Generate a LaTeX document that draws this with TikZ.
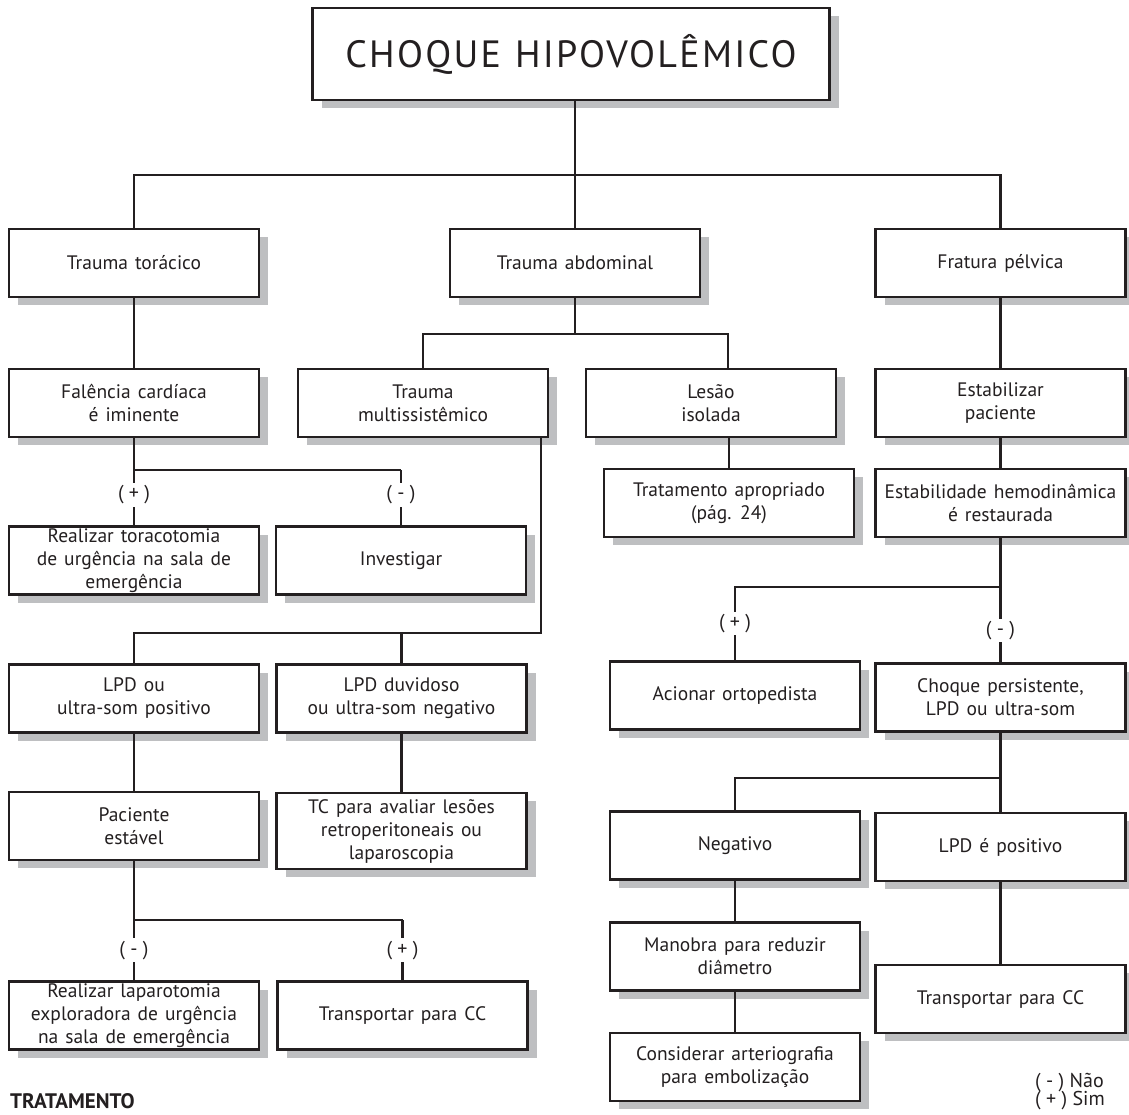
\documentclass[tikz,border=0pt]{standalone}
\usepackage{fontspec}
\setmainfont{PT Sans}
\newfontfamily\titlefont[LetterSpace=6]{PT Sans}
\usetikzlibrary{shadows}
\definecolor{ink}{HTML}{231F20}
\definecolor{shade}{HTML}{BEBFC1}

\begin{document}
\begin{tikzpicture}[x=1pt,y=-1pt,
    box/.style={draw=ink,line width=2.6pt,fill=white,minimum width=250pt,
      minimum height=68pt,inner sep=0pt,align=center,text=ink,
      font={\fontsize{19.5}{23}\selectfont\spaceskip=7pt plus 2pt\relax},
      drop shadow={shadow xshift=9pt,shadow yshift=-8pt,fill=shade,opacity=1}},
    wire/.style={ink,line width=2.6pt},
    sign/.style={fill=white,inner sep=2.5pt,text=ink,font=\fontsize{20}{22}\selectfont},
    note/.style={anchor=base west,inner sep=0pt,text=ink,font=\fontsize{20}{22}\selectfont}]
    % Page
    \useasboundingbox (0,0) rectangle (1129,1115);
    \fill[white] (0,0) rectangle (1129,1115);
    % Boxes
    \node[box,minimum width=517pt,minimum height=92pt,font={\titlefont\fontsize{38}{42}\selectfont\spaceskip=14pt\relax}] (title) at (571,54) {CHOQUE HIPOVOLÊMICO};
    \node[box] (tt) at (134,263) {Trauma torácico};
    \node[box] (ta) at (575,263) {Trauma abdominal};
    \node[box] (fp) at (1000.5,263) {Fratura pélvica};
    \node[box] (fc) at (134,403) {Falência cardíaca\\é iminente};
    \node[box] (tm) at (423,403) {Trauma\\multissistêmico};
    \node[box] (li) at (711,403) {Lesão\\isolada};
    \node[box] (ep) at (1000.5,403) {Estabilizar\\paciente};
    \node[box] (tr) at (729,503) {Tratamento apropriado\\(pág. 24)};
    \node[box] (eh) at (1000.5,503) {Estabilidade hemodinâmica\\é restaurada};
    \node[box] (rt) at (134,560.5) {Realizar toracotomia\\de urgência na sala de\\emergência};
    \node[box] (inv) at (401,560.5) {Investigar};
    \node[box] (lpd) at (134,698.5) {LPD ou\\ultra-som positivo};
    \node[box] (lpdd) at (401.5,698.5) {LPD duvidoso\\ou ultra-som negativo};
    \node[box] (ao) at (735,695.5) {Acionar ortopedista};
    \node[box] (cp) at (1000.5,697.5) {Choque persistente,\\LPD ou ultra-som};
    \node[box] (pe) at (134,826) {Paciente\\estável};
    \node[box,minimum height=76pt] (tc) at (401.5,831) {TC para avaliar lesões\\retroperitoneais ou\\laparoscopia};
    \node[box] (neg) at (735,845.5) {Negativo};
    \node[box] (lp) at (1000.5,847) {LPD é positivo};
    \node[box] (mr) at (735,956.5) {Manobra para reduzir\\diâmetro};
    \node[box] (tcc2) at (1000.5,999) {Transportar para CC};
    \node[box] (rl) at (134,1015.5) {Realizar laparotomia\\exploradora de urgência\\na sala de emergência};
    \node[box] (tcc1) at (402.5,1015.5) {Transportar para CC};
    \node[box] (ca) at (735,1067) {Considerar arteriografia\\para embolização};
    % Top
    \coordinate (j1) at (575,175);
    \draw[wire] (title.south -| j1) -- (j1);
    \draw[wire] (tt.north) |- (j1) -| (fp.north);
    \draw[wire] (j1) -- (ta.north);
    % Chest
    \coordinate (j2) at (401,470);
    \draw[wire] (tt) -- (fc);
    \draw[wire] (fc.south) |- (j2);
    \draw[wire] (fc.south |- j2) -- node[sign,pos=.45] {( + )} (rt.north);
    \draw[wire] (j2) -- node[sign,pos=.45] {( - )} (inv.north);
    % Abdomen
    \coordinate (j3) at (575,334);
    \coordinate (j4) at (728,334);
    \draw[wire] (ta.south) -- (j3);
    \draw[wire] (tm.north) |- (j4) -- (j4 |- li.north);
    \draw[wire] (li.south -| tr.north) -- (tr.north);
    \coordinate (j5) at (541,633);
    \draw[wire] (tm.south -| j5) -- (j5) -| (lpd.north);
    \draw[wire] (lpdd.north |- j5) -- (lpdd.north);
    \draw[wire] (lpd) -- (pe);
    \draw[wire] (lpdd) -- (tc);
    \coordinate (j6) at (402.5,920);
    \draw[wire] (pe.south) |- (j6);
    \draw[wire] (pe.south |- j6) -- node[sign] {( - )} (rl.north);
    \draw[wire] (j6) -- node[sign] {( + )} (tcc1.north);
    % Pelvis
    \draw[wire] (fp) -- (ep);
    \draw[wire] (ep) -- (eh);
    \coordinate (j7) at (1000.5,587);
    \draw[wire] (eh.south) -- (j7) -| node[sign,pos=.75] {( + )} (ao.north);
    \draw[wire] (j7) -- node[sign,pos=.58] {( - )} (cp.north);
    \coordinate (j8) at (1000.5,778);
    \draw[wire] (cp) -- (lp);
    \draw[wire] (j8) -| (neg.north);
    \draw[wire] (neg) -- (mr);
    \draw[wire] (mr) -- (ca);
    \draw[wire] (lp) -- (tcc2);
    % Notes
    \node[note,font=\bfseries\fontsize{21}{23}\selectfont] (trat) at (10,1108) {TRATAMENTO};
    \node[note] (no) at (1035,1087) {( - ) Não};
    \node[note] (yes) at (1035,1105) {( + ) Sim};
\end{tikzpicture}
\end{document}
